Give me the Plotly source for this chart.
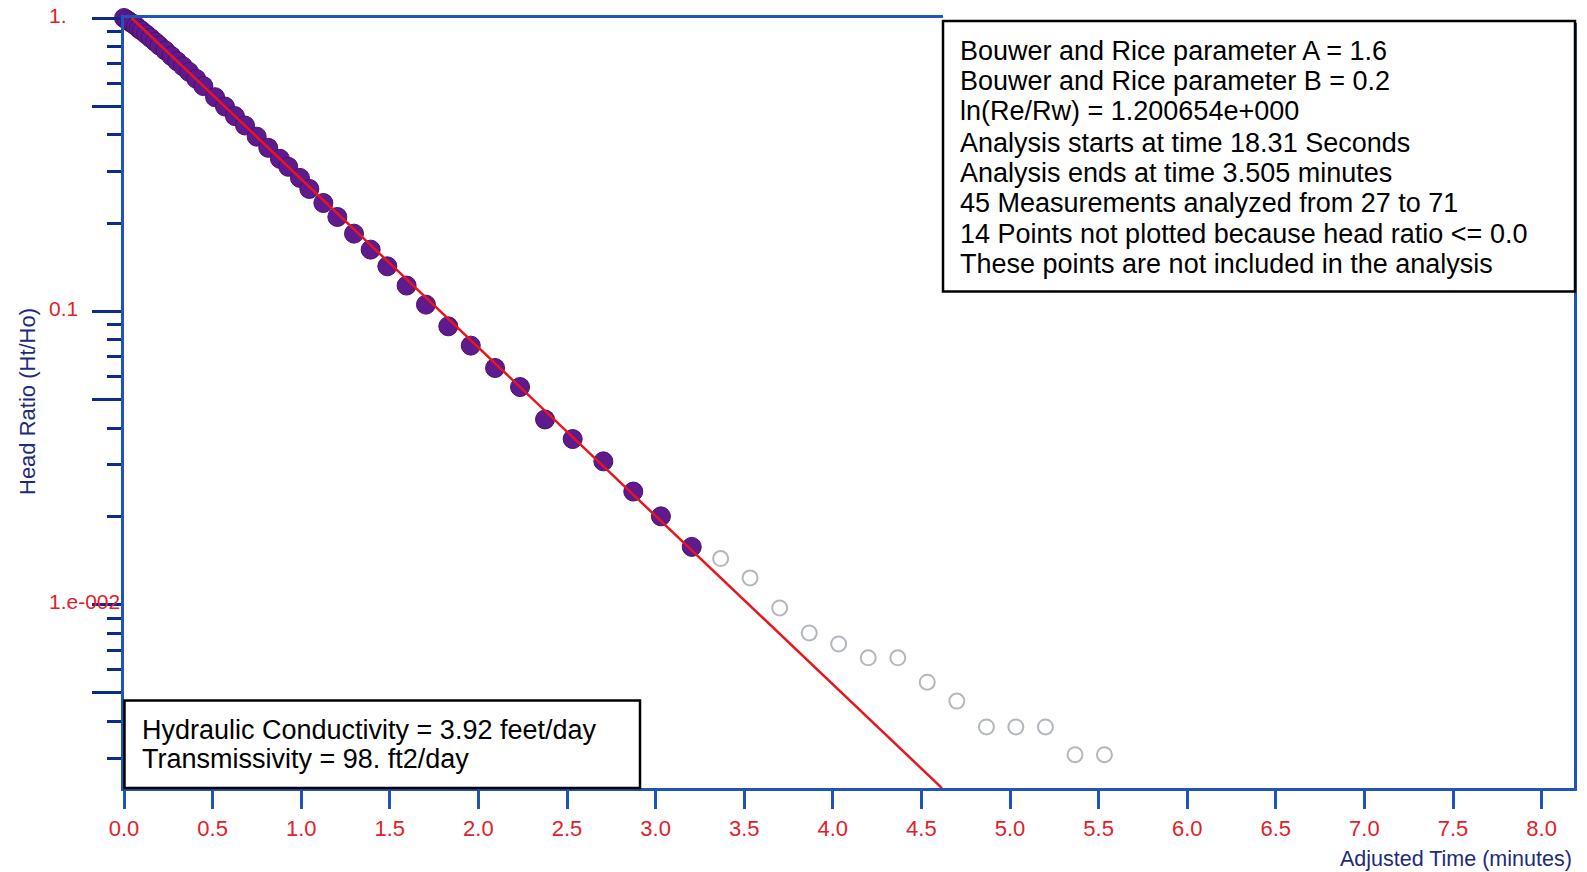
import math
import plotly.graph_objects as go

# ---- data ----
t_used = [0.0, 0.017, 0.033, 0.05, 0.067, 0.083, 0.1, 0.125, 0.15, 0.175, 0.2, 0.233, 0.267, 0.3, 0.333, 0.367, 0.408,
          0.448, 0.514, 0.570, 0.626, 0.683, 0.749, 0.814, 0.880, 0.927, 0.993,
          1.046, 1.125, 1.204, 1.298, 1.392, 1.486, 1.595, 1.704, 1.830, 1.957, 2.094, 2.235, 2.376, 2.532,
          2.705, 2.874, 3.030, 3.204]
h_used = [1.0, 0.985, 0.97, 0.955, 0.94, 0.92, 0.905, 0.88, 0.855, 0.83, 0.805, 0.775, 0.742, 0.712, 0.684, 0.655, 0.62,
          0.586, 0.537, 0.499, 0.463, 0.430, 0.394, 0.361, 0.331, 0.311, 0.285,
          0.2614, 0.2341, 0.2098, 0.1840, 0.1623, 0.1424, 0.1224, 0.1054, 0.0889, 0.0764, 0.0641, 0.0552, 0.0428,
          0.0367, 0.0308, 0.0243, 0.0200, 0.01574]

t_excluded = [3.367, 3.533, 3.700, 3.867, 4.033, 4.200, 4.367, 4.533, 4.700, 4.867, 5.033, 5.200, 5.367, 5.533]
h_excluded = [0.01436, 0.01234, 0.00975, 0.00801, 0.00735, 0.00659, 0.00659, 0.00544, 0.00469, 0.00383,
              0.00383, 0.00383, 0.00308, 0.00308]

fit_t = [0.0435, 4.616]
fit_h = [1.0, 0.00237]

x_tick_vals = [0.0, 0.5, 1.0, 1.5, 2.0, 2.5, 3.0, 3.5, 4.0, 4.5, 5.0, 5.5, 6.0, 6.5, 7.0, 7.5, 8.0]
x_tick_text = ["0.0", "0.5", "1.0", "1.5", "2.0", "2.5", "3.0", "3.5", "4.0", "4.5", "5.0", "5.5", "6.0",
               "6.5", "7.0", "7.5", "8.0"]
y_major_vals = [1.0, 0.5, 0.1, 0.05, 0.01, 0.005]
y_minor_vals = [0.9, 0.8, 0.7, 0.6, 0.4, 0.3, 0.2,
                0.09, 0.08, 0.07, 0.06, 0.04, 0.03, 0.02,
                0.009, 0.008, 0.007, 0.006, 0.004, 0.003]
y_label_vals = [1.0, 0.1, 0.01]
y_label_text = ["1.", "0.1", "1.e-002"]

info_lines = [
    "Bouwer and Rice parameter A = 1.6",
    "Bouwer and Rice parameter B = 0.2",
    "ln(Re/Rw) = 1.200654e+000",
    "Analysis starts at time 18.31 Seconds",
    "Analysis ends at time 3.505 minutes",
    "45 Measurements analyzed from 27 to 71",
    "14 Points not plotted because head ratio <= 0.0",
    "These points are not included in the analysis",
]
result_lines = [
    "Hydraulic Conductivity = 3.92 feet/day",
    "Transmissivity = 98. ft2/day",
]

# ---- layout geometry ----
W, H = 1587, 872
L, R, T, B = 124, 13, 18, 84
PW, PH = W - L - R, H - T - B


def px(x):
    return (x - L) / PW


def py(y):
    return (H - B - y) / PH


AXIS_BLUE = "#1f55b8"
TICK_BLUE = "#0c2c8c"
RED = "#e3202a"
NAVY = "#1d2b7a"
FONT = "Liberation Sans, Arial, sans-serif"

fig = go.Figure()

fig.add_trace(go.Scatter(
    x=t_excluded, y=h_excluded, mode="markers",
    marker=dict(size=15, color="rgba(255,255,255,0)", line=dict(color="#b3b7bf", width=2)),
    showlegend=False, cliponaxis=False))

fig.add_trace(go.Scatter(
    x=t_used, y=h_used, mode="markers",
    marker=dict(size=19, color="#5f1a8e", line=dict(color="#4a0f72", width=1)),
    showlegend=False, cliponaxis=False))

fig.add_trace(go.Scatter(
    x=fit_t, y=fit_h, mode="lines",
    line=dict(color="#e8161c", width=2.5),
    showlegend=False))

fig.update_xaxes(
    range=[0, PW / 177.2], showgrid=False, zeroline=False,
    showline=True, linecolor=AXIS_BLUE, linewidth=2.5, mirror=True,
    tickmode="array", tickvals=x_tick_vals, ticktext=x_tick_text,
    ticks="outside", ticklen=18, tickwidth=2.5, tickcolor=AXIS_BLUE,
    tickfont=dict(family=FONT, size=22, color=RED), ticklabelstandoff=1,
)
fig.update_yaxes(
    type="log", range=[-2.625, 0], showgrid=False, zeroline=False,
    showline=True, linecolor=AXIS_BLUE, linewidth=2.5, mirror=True,
    tickmode="array", tickvals=y_major_vals, showticklabels=False,
    ticks="outside", ticklen=29, tickwidth=3, tickcolor=TICK_BLUE,
    minor=dict(tickmode="array", tickvals=y_minor_vals, ticks="outside",
               ticklen=14.5, tickwidth=3, tickcolor=TICK_BLUE, showgrid=False),
)

annotations = []
for v, txt in zip(y_label_vals, y_label_text):
    annotations.append(dict(
        x=px(47), xref="paper", y=math.log10(v), yref="y",
        text=txt, showarrow=False, xanchor="left", yanchor="middle", yshift=3,
        font=dict(family=FONT, size=21, color=RED)))

annotations.append(dict(
    x=px(27), xref="paper", y=py(402), yref="paper", text="Head Ratio (Ht/Ho)",
    textangle=-90, showarrow=False, xanchor="center", yanchor="middle",
    font=dict(family=FONT, size=22, color=NAVY)))
annotations.append(dict(
    x=1.0, xref="paper", y=py(859), yref="paper", text="Adjusted Time (minutes)",
    showarrow=False, xanchor="right", yanchor="middle",
    font=dict(family=FONT, size=21.5, color=NAVY)))

info_y = [50.6, 81.0, 111.3, 142.7, 173.1, 203.4, 233.8, 264.2]
for yy, txt in zip(info_y, info_lines):
    annotations.append(dict(
        x=px(958), xref="paper", y=py(yy), yref="paper", text=txt,
        showarrow=False, xanchor="left", yanchor="middle",
        font=dict(family=FONT, size=27, color="black")))

res_y = [729.7, 759.0]
for yy, txt in zip(res_y, result_lines):
    annotations.append(dict(
        x=px(139.5), xref="paper", y=py(yy), yref="paper", text=txt,
        showarrow=False, xanchor="left", yanchor="middle",
        font=dict(family=FONT, size=27, color="black")))

shapes = [
    # hide the top axis line behind the info box
    dict(type="rect", xref="paper", yref="paper", x0=px(943), x1=px(1580), y0=py(23), y1=py(14),
         fillcolor="white", line=dict(width=0), layer="above"),
    dict(type="rect", xref="paper", yref="paper", x0=px(943), x1=px(1575), y0=py(291.5), y1=py(21),
         fillcolor="white", line=dict(color="black", width=2.5), layer="above"),
    dict(type="rect", xref="paper", yref="paper", x0=px(124.5), x1=px(640), y0=py(788), y1=py(700.5),
         fillcolor="white", line=dict(color="black", width=2.5), layer="above"),
]

fig.update_layout(
    width=W, height=H, margin=dict(l=L, r=R, t=T, b=B, autoexpand=False),
    paper_bgcolor="white", plot_bgcolor="white",
    annotations=annotations, shapes=shapes, showlegend=False,
    font=dict(family=FONT),
)

fig.write_html("out.html", config={"displayModeBar": False},
               post_script="document.body.style.margin='0px';document.body.style.overflow='hidden';")
